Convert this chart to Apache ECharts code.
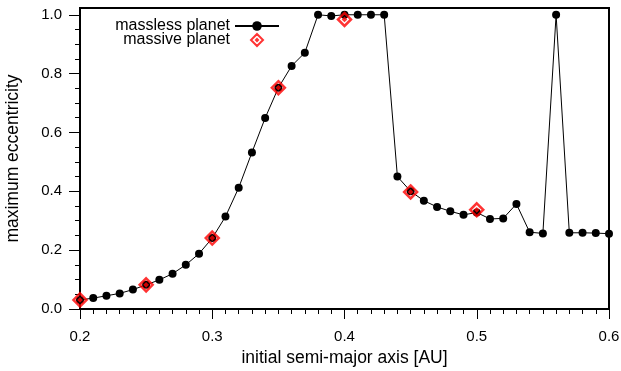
<!DOCTYPE html>
<html>
<head>
<meta charset="utf-8">
<script src="https://cdn.jsdelivr.net/npm/echarts@6/dist/echarts.min.js"></script>
<style>
  html, body { margin: 0; padding: 0; background: #fff; }
  #main { width: 621px; height: 371px; }
</style>
</head>
<body>
<div id="main"></div>
<script>
// semi-major axis values (AU) for the massless runs
var masslessA = [0.20, 0.21, 0.22, 0.23, 0.24, 0.25, 0.26, 0.27, 0.28, 0.29,
  0.30, 0.31, 0.32, 0.33, 0.34, 0.35, 0.36, 0.37, 0.38, 0.39,
  0.40, 0.41, 0.42, 0.43, 0.44, 0.45, 0.46, 0.47, 0.48, 0.49,
  0.50, 0.51, 0.52, 0.53, 0.54, 0.55, 0.56, 0.57, 0.58, 0.59, 0.60];
var masslessE = [0.031, 0.037, 0.045, 0.053, 0.066, 0.082, 0.099, 0.120, 0.150, 0.188,
  0.241, 0.314, 0.412, 0.532, 0.649, 0.752, 0.826, 0.871, 1.0, 0.996,
  1.0, 1.0, 1.0, 1.0, 0.450, 0.400, 0.368, 0.347, 0.332, 0.320,
  0.328, 0.306, 0.308, 0.357, 0.261, 0.257, 1.0, 0.259, 0.259, 0.258, 0.256];
var massiveA = [0.20, 0.25, 0.30, 0.35, 0.40, 0.45, 0.50];
var massiveE = [0.031, 0.082, 0.241, 0.752, 0.984, 0.398, 0.337];
var yMajor = [0, 0.2, 0.4, 0.6, 0.8, 1.0];
var yMinor = [0.05, 0.1, 0.15, 0.25, 0.3, 0.35, 0.45, 0.5, 0.55, 0.65, 0.7, 0.75, 0.85, 0.9, 0.95];

var font = 'Liberation Sans, Arial, sans-serif';
// open diamond with a small dot in the middle
var diamondDot = 'path://M0,-6L6,0L0,6L-6,0Z M0,-1L1,0L0,1L-1,0Z';
var chart = echarts.init(document.getElementById('main'));

chart.setOption({
  animation: false,
  textStyle: { fontFamily: font },
  grid: {
    left: 80, right: 12, top: 8, bottom: 62,
    outerBoundsMode: 'none',
    show: true, borderColor: '#000', borderWidth: 2
  },
  legend: {
    orient: 'vertical',
    align: 'right',
    right: 336,
    top: 13,
    itemWidth: 44,
    itemHeight: 12,
    itemGap: -2,
    symbolKeepAspect: true,
    textStyle: { fontSize: 16, lineHeight: 15, color: '#000', fontFamily: font },
    data: ['massless planet', 'massive planet']
  },
  xAxis: {
    type: 'value',
    min: 0.2, max: 0.6, interval: 0.1,
    name: 'initial semi-major axis [AU]',
    nameLocation: 'middle',
    nameGap: 39,
    nameTextStyle: { fontSize: 17.5, color: '#000' },
    axisLine: { lineStyle: { color: '#000', width: 2 } },
    axisTick: { length: 10, lineStyle: { color: '#000', width: 1 } },
    minorTick: { show: true, splitNumber: 10, length: 5, lineStyle: { color: '#000', width: 1 } },
    splitLine: { show: false },
    axisLabel: { fontSize: 15, color: '#000', margin: 20, formatter: function (v) { return v.toFixed(1); } }
  },
  yAxis: [{
    type: 'value',
    min: 0, max: 1.023,
    name: 'maximum eccentricity',
    nameLocation: 'middle',
    nameGap: 58,
    nameTextStyle: { fontSize: 17.5, color: '#000' },
    axisLine: { show: true, lineStyle: { color: '#000', width: 2 } },
    axisTick: { show: true, length: 11, customValues: yMajor, lineStyle: { color: '#000', width: 1 } },
    splitLine: { show: false },
    axisLabel: { fontSize: 15, color: '#000', margin: 18, customValues: yMajor, formatter: function (v) { return v.toFixed(1); } }
  }, {
    type: 'value',
    position: 'left',
    min: 0, max: 1.023,
    axisLine: { show: false },
    axisTick: { show: true, length: 5, customValues: yMinor, lineStyle: { color: '#000', width: 1 } },
    axisLabel: { show: false },
    splitLine: { show: false }
  }],
  series: [{
    name: 'massless planet',
    type: 'line',
    data: masslessA.map(function (a, i) { return [a, masslessE[i]]; }),
    symbol: 'circle',
    symbolSize: 8,
    showAllSymbol: true,
    itemStyle: { color: '#000' },
    lineStyle: { color: '#000', width: 1 },
    z: 2
  }, {
    name: 'massive planet',
    type: 'scatter',
    data: massiveA.map(function (a, i) { return [a, massiveE[i]]; }),
    symbol: diamondDot,
    symbolSize: 13,
    symbolKeepAspect: true,
    itemStyle: { color: 'rgba(0,0,0,0)', borderColor: '#ff0000', borderWidth: 2.5 },
    z: 3
  }]
});
</script>
</body>
</html>
